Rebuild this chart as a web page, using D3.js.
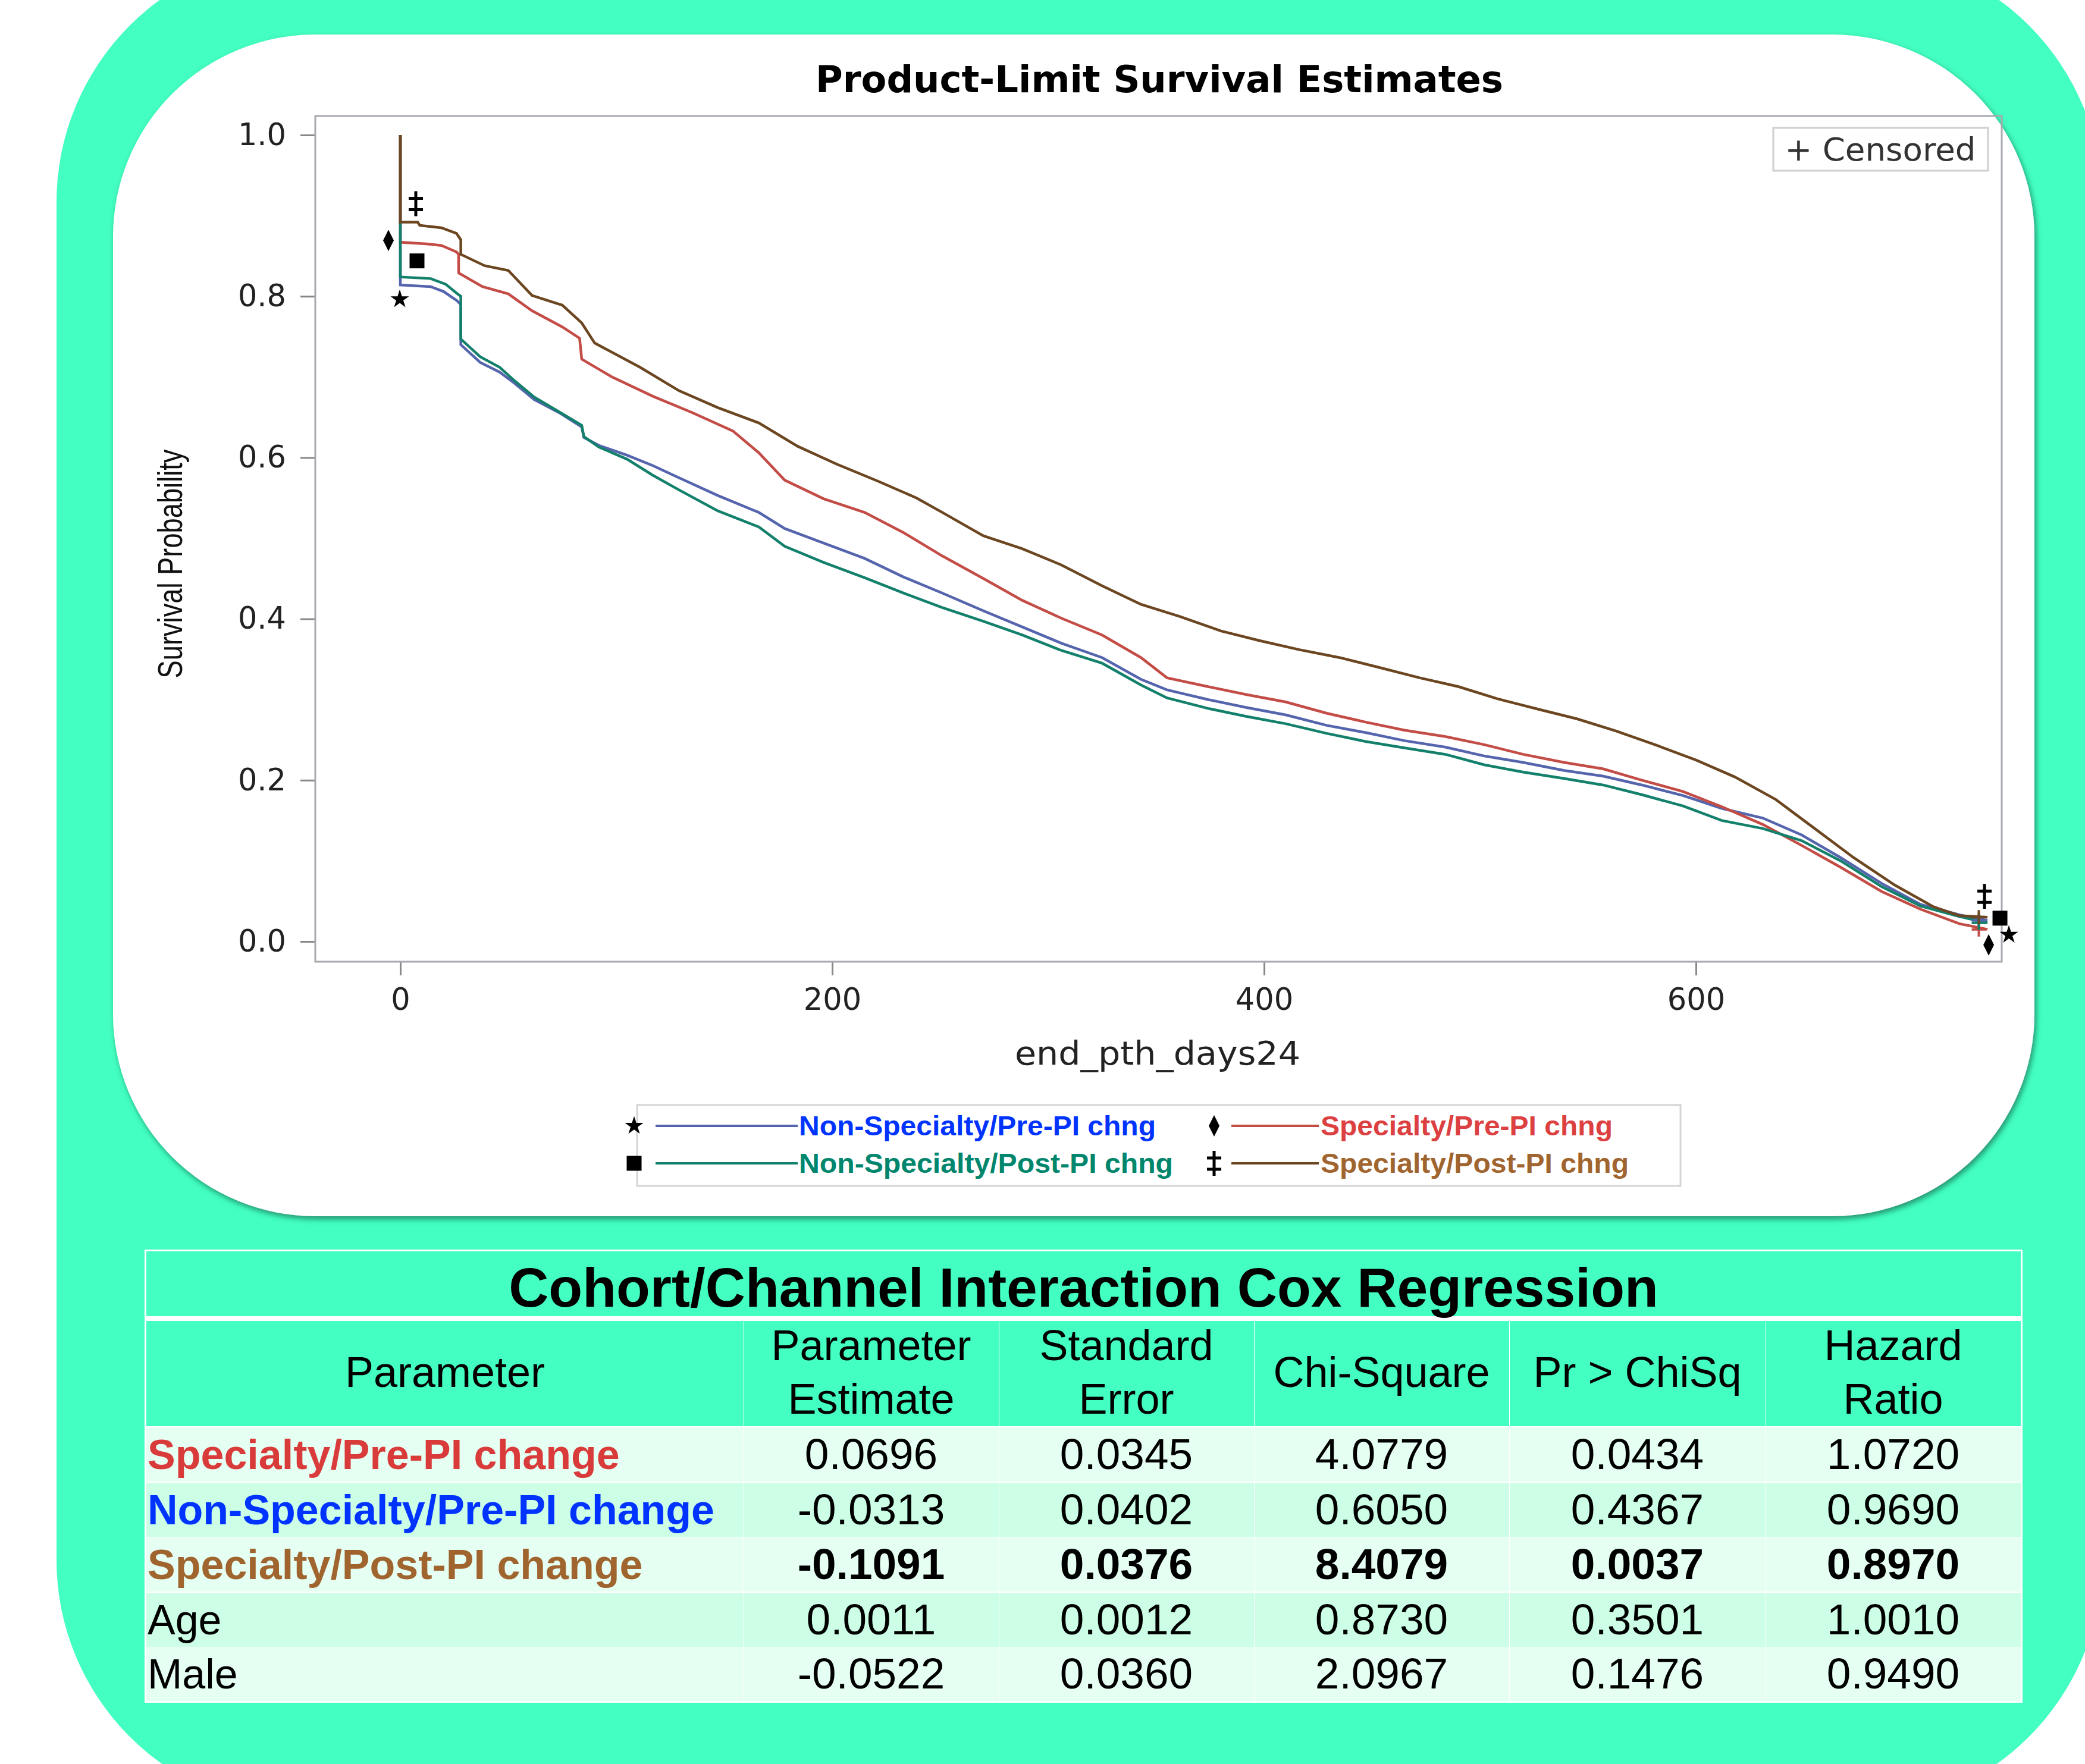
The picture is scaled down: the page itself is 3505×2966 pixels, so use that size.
<!DOCTYPE html>
<html>
<head>
<meta charset="utf-8">
<script src="https://cdn.jsdelivr.net/npm/d3@7"></script>
<style>
  body { margin: 0; background: #fff; }
  svg { display: block; }
</style>
</head>
<body>
<svg id="chart" width="3505" height="2966"></svg>
<script>
// ---- data ----
// Kaplan-Meier estimates, [day, survival]
const nonSpecPre = [[0,1.0],[0,0.814],[14,0.812],[20,0.806],[26,0.795],[28,0.790],[28,0.740],[37,0.718],[46,0.706],[53,0.692],[62,0.672],[74,0.655],[84,0.638],[85,0.625],[92,0.615],[105,0.603],[117,0.590],[129,0.575],[147,0.553],[166,0.532],[178,0.512],[196,0.494],[215,0.475],[233,0.452],[251,0.432],[270,0.410],[288,0.390],[306,0.370],[325,0.352],[343,0.325],[355,0.312],[374,0.300],[392,0.290],[410,0.281],[429,0.268],[447,0.259],[465,0.249],[484,0.241],[502,0.230],[520,0.222],[539,0.212],[557,0.205],[575,0.194],[594,0.181],[612,0.165],[631,0.153],[649,0.132],[667,0.104],[686,0.072],[704,0.046],[722,0.033],[735,0.026]]
const nonSpecPost = [[0,1.0],[0,0.824],[14,0.822],[21,0.815],[26,0.804],[28,0.800],[28,0.747],[37,0.725],[46,0.712],[53,0.695],[62,0.675],[74,0.656],[84,0.640],[85,0.626],[92,0.613],[105,0.598],[117,0.578],[129,0.560],[147,0.534],[166,0.514],[178,0.490],[196,0.470],[215,0.451],[233,0.432],[251,0.414],[270,0.397],[288,0.380],[306,0.361],[325,0.345],[343,0.318],[355,0.302],[374,0.289],[392,0.279],[410,0.270],[429,0.258],[447,0.248],[465,0.240],[484,0.232],[502,0.219],[520,0.210],[539,0.202],[557,0.194],[575,0.182],[594,0.168],[612,0.150],[631,0.140],[649,0.125],[667,0.100],[686,0.068],[704,0.044],[722,0.031],[735,0.023]]
const specPre = [[0,1.0],[0,0.867],[12,0.865],[19,0.863],[26,0.855],[27,0.852],[27,0.829],[38,0.812],[50,0.803],[61,0.782],[75,0.762],[83,0.748],[84,0.722],[98,0.700],[117,0.676],[135,0.656],[154,0.633],[166,0.606],[178,0.572],[196,0.549],[215,0.532],[233,0.507],[251,0.478],[270,0.450],[288,0.423],[306,0.401],[325,0.380],[343,0.352],[355,0.327],[374,0.316],[392,0.306],[410,0.297],[429,0.283],[447,0.272],[465,0.262],[484,0.254],[502,0.244],[520,0.232],[539,0.222],[557,0.214],[575,0.200],[594,0.186],[612,0.167],[631,0.145],[649,0.119],[667,0.092],[686,0.062],[704,0.040],[722,0.022],[735,0.015]]
const specPost = [[0,1.0],[0,0.892],[8,0.892],[9,0.888],[19,0.885],[26,0.878],[28,0.870],[28,0.852],[39,0.838],[50,0.832],[61,0.801],[75,0.789],[84,0.767],[90,0.742],[111,0.712],[129,0.683],[147,0.662],[166,0.643],[184,0.614],[202,0.592],[221,0.571],[239,0.550],[251,0.532],[270,0.503],[288,0.487],[306,0.467],[325,0.441],[343,0.418],[361,0.403],[380,0.385],[398,0.373],[416,0.362],[435,0.352],[453,0.340],[472,0.327],[490,0.316],[508,0.301],[527,0.288],[545,0.276],[563,0.261],[582,0.243],[600,0.225],[618,0.204],[637,0.176],[655,0.140],[673,0.104],[692,0.070],[710,0.043],[722,0.032],[735,0.030]]
const censorDay = 731

const xTicks = [0, 200, 400, 600]
const yTicks = [0, 0.2, 0.4, 0.6, 0.8, 1.0]
const legendLabels = ["Non-Specialty/Pre-PI chng", "Non-Specialty/Post-PI chng", "Specialty/Pre-PI chng", "Specialty/Post-PI chng"]

const tableTitle = "Cohort/Channel Interaction Cox Regression"
const headers = [["Parameter"], ["Parameter", "Estimate"], ["Standard", "Error"], ["Chi-Square"], ["Pr > ChiSq"], ["Hazard", "Ratio"]]
const params = ["Specialty/Pre-PI change", "Non-Specialty/Pre-PI change", "Specialty/Post-PI change", "Age", "Male"]
const estimates = [0.0696, -0.0313, -0.1091, 0.0011, -0.0522]
const stdErrors = [0.0345, 0.0402, 0.0376, 0.0012, 0.0360]
const chiSquares = [4.0779, 0.6050, 8.4079, 0.8730, 2.0967]
const pValues = [0.0434, 0.4367, 0.0037, 0.3501, 0.1476]
const hazardRatios = [1.0720, 0.9690, 0.8970, 1.0010, 0.9490]

// ---- styles ----
const teal = "#43ffc1"
const plotFont = "'DejaVu Sans', sans-serif"
const tableFont = "'Liberation Sans', Arial, sans-serif"

const series = [
	{data: nonSpecPre,  line: "#5565ad", text: "#0033ff", mark: "star",    startOff: [-1, 24],  endOff: [36, 24],  legend: [0, 0], width: 600},
	{data: specPre,     line: "#c44c46", text: "#dc4040", mark: "diamond", startOff: [-20, -3], endOff: [2, 26],   legend: [1, 0], width: 491},
	{data: nonSpecPost, line: "#13806c", text: "#00866c", mark: "square",  startOff: [28, -27], endOff: [21, -8],  legend: [0, 1], width: 629},
	{data: specPost,    line: "#6b4620", text: "#a0652e", mark: "dagger",  startOff: [26, -31], endOff: [-5, -35], legend: [1, 1], width: 518},
]
series.forEach((s, i) => s.label = legendLabels[[0, 2, 1, 3][i]])

const frame = {left: 530, top: 195, right: 3365, bottom: 1617}

let svg = d3.select("#chart")
let defs = svg.append("defs")

let filt = defs.append("filter").attr("id", "shadow")
	.attr("x", "-5%").attr("y", "-5%").attr("width", "110%").attr("height", "112%")
filt.append("feDropShadow")
	.attr("dx", 3).attr("dy", 5).attr("stdDeviation", 5)
	.attr("flood-color", "#0c5a44").attr("flood-opacity", 0.65)

defs.append("clipPath").attr("id", "plotclip")
  .append("rect")
	.attr("x", frame.left).attr("y", frame.top)
	.attr("width", frame.right - frame.left).attr("height", frame.bottom - frame.top)

// background shapes
svg.append("rect")
	.attr("x", 95).attr("y", -80).attr("width", 3439).attr("height", 3123)
	.attr("rx", 420).attr("fill", teal)

svg.append("rect")
	.attr("x", 190).attr("y", 58).attr("width", 3230).attr("height", 1987)
	.attr("rx", 340).attr("fill", "#fff").attr("filter", "url(#shadow)")

// ---- survival plot ----
let x = d3.scaleLinear().domain([0, 600]).range([673, 2851])
let y = d3.scaleLinear().domain([0, 1]).range([1583, 227])

svg.append("text")
	.attr("x", 1949).attr("y", 155)
	.attr("text-anchor", "middle")
	.attr("font-family", plotFont).attr("font-weight", "bold").attr("font-size", 62)
	.attr("textLength", 1156).attr("lengthAdjust", "spacingAndGlyphs")
	.text("Product-Limit Survival Estimates")

let yaxis = svg.append("g")
	.attr("transform", "translate(" + frame.left + ",0)")
	.call(d3.axisLeft(y).tickValues(yTicks).tickFormat(d3.format(".1f")).tickSize(25).tickPadding(24))
let xaxis = svg.append("g")
	.attr("transform", "translate(0," + frame.bottom + ")")
	.call(d3.axisBottom(x).tickValues(xTicks).tickSize(23).tickPadding(22))

;[yaxis, xaxis].forEach(a => {
	a.select(".domain").remove()
	a.selectAll("line").attr("stroke", "#888").attr("stroke-width", 3)
	a.selectAll("text").attr("font-family", plotFont).attr("font-size", 51).attr("fill", "#222")
})

svg.append("rect")
	.attr("x", frame.left).attr("y", frame.top)
	.attr("width", frame.right - frame.left).attr("height", frame.bottom - frame.top)
	.attr("fill", "none").attr("stroke", "#a6aaae").attr("stroke-width", 3)

svg.append("text")
	.attr("transform", "translate(286,948) rotate(-90)")
	.attr("dy", "0.35em")
	.attr("text-anchor", "middle")
	.attr("font-family", "'Liberation Sans Narrow', 'Liberation Sans', Arial, sans-serif")
	.attr("font-size", 58).attr("fill", "#111")
	.attr("textLength", 385).attr("lengthAdjust", "spacingAndGlyphs")
	.text("Survival Probability")

svg.append("text")
	.attr("x", 1946).attr("y", 1790)
	.attr("text-anchor", "middle")
	.attr("font-family", plotFont).attr("font-size", 56).attr("fill", "#222")
	.attr("textLength", 480).attr("lengthAdjust", "spacingAndGlyphs")
	.text("end_pth_days24")

// censored box
svg.append("rect")
	.attr("x", 2981).attr("y", 215).attr("width", 361).attr("height", 72)
	.attr("fill", "#fff").attr("stroke", "#cfcfcf").attr("stroke-width", 3)
svg.append("text")
	.attr("x", 3161).attr("y", 270)
	.attr("text-anchor", "middle")
	.attr("font-family", plotFont).attr("font-size", 54).attr("fill", "#333")
	.attr("textLength", 321).attr("lengthAdjust", "spacingAndGlyphs")
	.text("+ Censored")

// curves
let line = d3.line().x(d => x(d[0])).y(d => y(d[1]))
let curves = svg.append("g").attr("clip-path", "url(#plotclip)")

curves.selectAll("path.km")
  .data(series)
  .enter()
	.append("path")
	  .attr("class", "km")
	  .attr("d", d => line(d.data))
	  .attr("fill", "none")
	  .attr("stroke", d => d.line)
	  .attr("stroke-width", 4.5)
	  .attr("stroke-linejoin", "miter")

// censor crosses
curves.selectAll("path.censor")
  .data(series)
  .enter()
	.append("path")
	  .attr("class", "censor")
	  .attr("transform", d => "translate(" + x(censorDay) + "," + y(d.data[d.data.length - 1][1]) + ")")
	  .attr("d", "M-12,0H12M0,-12V12")
	  .attr("stroke", d => d.line)
	  .attr("stroke-width", 4)

// curve label symbols
function drawmark(g, kind){
	if(kind == "star"){
		g.append("path").attr("d", d3.symbol(d3.symbolStar, 300)()).attr("fill", "#000")
	} else if(kind == "diamond"){
		g.append("path").attr("d", "M0,-18L9,0L0,18L-9,0Z").attr("fill", "#000")
	} else if(kind == "square"){
		g.append("rect").attr("x", -12.5).attr("y", -12.5).attr("width", 25).attr("height", 25).attr("fill", "#000")
	} else {
		g.append("path").attr("d", "M0,-21V21M-12,-9H12M-12,10H12")
		  .attr("stroke", "#000").attr("stroke-width", 5).attr("fill", "none")
	}
} // drawmark

series.forEach(s => {
	let first = s.data[1], last = s.data[s.data.length - 1]
	drawmark(svg.append("g").attr("transform", "translate(" + (x(first[0]) + s.startOff[0]) + "," + (y(first[1]) + s.startOff[1]) + ")"), s.mark)
	drawmark(svg.append("g").attr("transform", "translate(" + (x(last[0]) + s.endOff[0]) + "," + (y(last[1]) + s.endOff[1]) + ")"), s.mark)
})

// legend
svg.append("rect")
	.attr("x", 1071).attr("y", 1858).attr("width", 1754).attr("height", 136)
	.attr("fill", "none").attr("stroke", "#d4d4d4").attr("stroke-width", 3)

let legcols = [{sym: 1066, l0: 1102, l1: 1341, tx: 1343}, {sym: 2041, l0: 2070, l1: 2217, tx: 2220}]
let legrows = [1893, 1956]

series.forEach(s => {
	let c = legcols[s.legend[0]], ry = legrows[s.legend[1]]
	drawmark(svg.append("g").attr("transform", "translate(" + c.sym + "," + ry + ")"), s.mark)
	svg.append("line")
		.attr("x1", c.l0).attr("x2", c.l1).attr("y1", ry).attr("y2", ry)
		.attr("stroke", s.line).attr("stroke-width", 4)
	svg.append("text")
		.attr("x", c.tx).attr("y", ry + 16)
		.attr("font-family", "'Liberation Sans', Arial, sans-serif").attr("font-weight", "bold")
		.attr("font-size", 47).attr("fill", s.text)
		.attr("textLength", s.width).attr("lengthAdjust", "spacingAndGlyphs")
		.text(s.label)
})

// ---- Cox regression table ----
let colx = [246, 1250, 1679, 2108, 2537, 2968, 3397]
let rowtop = [2400, 2493, 2585, 2678, 2769]
let rowh = 91
let rowfill = ["#e6fff3", "#ccffe6", "#e6fff3", "#ccffe6", "#e6fff3"]
let paramColors = ["#d93b3b", "#0033ff", "#a0652e", "#000", "#000"]

let table = svg.append("g").attr("font-family", tableFont)

table.append("rect")
	.attr("x", 243).attr("y", 2101).attr("width", 3157).attr("height", 762)
	.attr("fill", "#fff")

table.append("rect")
	.attr("x", colx[0]).attr("y", 2104).attr("width", colx[6] - colx[0]).attr("height", 109)
	.attr("fill", teal)
table.append("text")
	.attr("x", (colx[0] + colx[6]) / 2).attr("y", 2197)
	.attr("text-anchor", "middle").attr("font-weight", "bold").attr("font-size", 93)
	.text(tableTitle)

// header cells
let hcells = table.selectAll("g.hcell")
  .data(headers)
  .enter()
	.append("g").attr("class", "hcell")

hcells.append("rect")
	.attr("x", (d, i) => colx[i] + (i ? 1 : 0))
	.attr("y", 2221)
	.attr("width", (d, i) => colx[i + 1] - colx[i] - (i ? 1 : 0))
	.attr("height", 177)
	.attr("fill", teal)

hcells.each(function(h, i){
	d3.select(this).selectAll("text")
	  .data(h)
	  .enter()
		.append("text")
		  .attr("x", (colx[i] + colx[i + 1]) / 2)
		  .attr("y", (d, k) => h.length == 1 ? 2332 : 2287 + k * 90)
		  .attr("text-anchor", "middle").attr("font-size", 72)
		  .text(d => d)
})

// body rows
let columns = [params, estimates, stdErrors, chiSquares, pValues, hazardRatios]
let rows = table.selectAll("g.row")
  .data(params)
  .enter()
	.append("g").attr("class", "row")

rows.each(function(p, r){
	let g = d3.select(this)
	columns.forEach((col, c) => {
		g.append("rect")
			.attr("x", colx[c] + (c ? 1 : 0)).attr("y", rowtop[r])
			.attr("width", colx[c + 1] - colx[c] - (c ? 1 : 0)).attr("height", rowh)
			.attr("fill", rowfill[r])
		let t = g.append("text")
			.attr("y", rowtop[r] + 70)
		if(c == 0){
			t.attr("x", colx[0] + 2).attr("fill", paramColors[r])
			 .attr("font-size", 70)
			 .attr("font-weight", r < 3 ? "bold" : "normal")
			 .text(col[r])
		} else {
			t.attr("x", (colx[c] + colx[c + 1]) / 2).attr("text-anchor", "middle")
			 .attr("font-size", 73)
			 .attr("font-weight", r == 2 ? "bold" : "normal")
			 .text(col[r].toFixed(4))
		}
	})
})
</script>
</body>
</html>
